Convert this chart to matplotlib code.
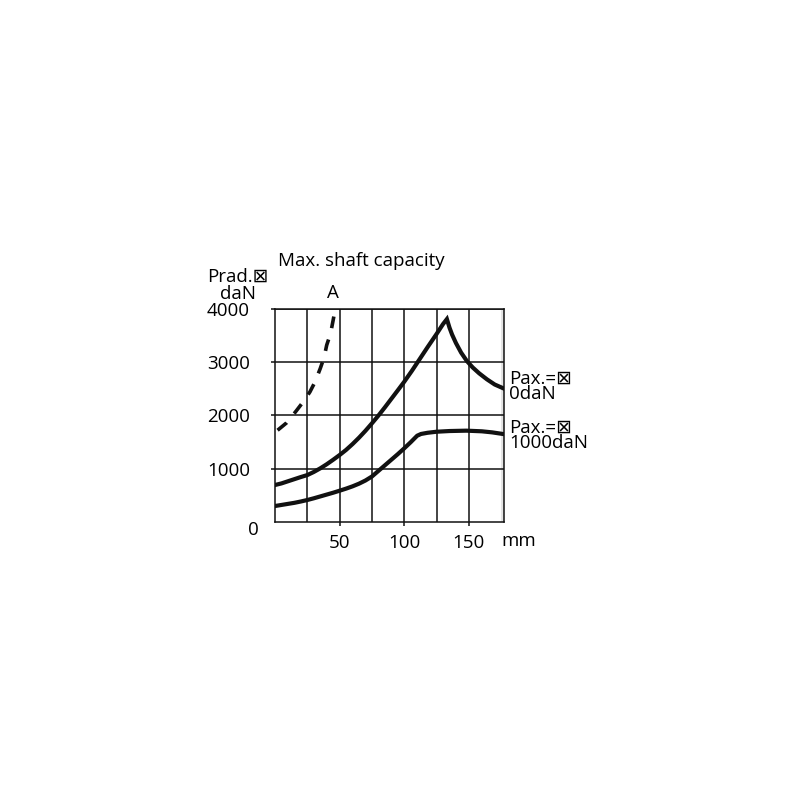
import matplotlib.pyplot as plt

plt.rcParams['font.family'] = ['Open Sans', 'DejaVu Sans']
plt.rcParams['lines.scale_dashes'] = False

# Pax. = 0 daN
x_pax0 = [0, 5, 10, 15, 20, 25, 30, 35, 40, 45, 50, 55, 60, 65, 70, 75, 80, 85, 90, 95,
          100, 106, 112, 118, 125, 130, 133,
          135, 137, 140, 144, 148.5, 153, 158, 164, 170, 176.8]
y_pax0 = [690, 720, 760, 800, 840, 877, 935, 1003, 1080, 1165, 1254, 1350, 1460, 1580, 1710, 1850, 1995, 2150, 2310, 2470,
          2632, 2840, 3060, 3280, 3530, 3716, 3810,
          3650, 3520, 3360, 3180, 3020, 2900, 2790, 2677, 2580, 2507]

# Pax. = 1000 daN
x_pax1000 = [0, 5, 10, 15, 20, 25, 30, 35, 40, 45, 50, 55, 60, 65, 70, 75, 80, 85, 90, 95,
             100, 105, 110, 113, 118, 125, 135, 148, 160, 168, 176.8]
y_pax1000 = [295, 315, 335, 355, 380, 408, 440, 475, 510, 545, 583, 622, 665, 715, 775, 850, 955, 1060, 1165, 1270,
             1380, 1495, 1617, 1650, 1672, 1692, 1705, 1712, 1700, 1680, 1648]

# curve A (dashed)
x_a = [2, 9, 16, 22, 27, 31, 35, 38, 40, 43, 45, 46.6]
y_a = [1720, 1860, 2070, 2260, 2440, 2630, 2880, 3090, 3320, 3540, 3790, 4000]

y_ticks = [1000, 2000, 3000, 4000]
x_ticks = [50, 100, 150]
x_minor = [25, 75, 125]

fig = plt.figure(figsize=(8, 8), dpi=100)
ax = fig.add_axes([275 / 800, 1 - 521.7 / 800, 228.5 / 800, 212.7 / 800])

ax.set_xlim(0, 176.8)
ax.set_ylim(0, 4000)

ax.axvspan(174.5, 176.8, color='#e4e4e4', lw=0, zorder=0)

ax.plot(x_pax0, y_pax0, color='#111111', lw=3.0, solid_joinstyle='miter', zorder=3)
ax.plot(x_pax1000, y_pax1000, color='#111111', lw=3.0, solid_joinstyle='round', zorder=3)
ax.plot(x_a, y_a, color='#111111', lw=2.6, dashes=[8.5, 8.5], dash_capstyle='butt', zorder=3)

ax.set_xticks(x_ticks)
ax.set_xticks(x_minor, minor=True)
ax.set_yticks(y_ticks)
ax.set_xticklabels([str(v) for v in x_ticks])
ax.set_yticklabels([str(v) for v in y_ticks])
ax.tick_params(axis='x', which='major', length=3, width=1.1, pad=6, labelsize=13.5, color='#111111')
ax.tick_params(axis='x', which='minor', length=0)
ax.tick_params(axis='y', length=3, width=1.1, pad=15, labelsize=13.5, color='#111111')
ax.grid(True, which='both', axis='x', color='#111111', lw=1.1)
ax.grid(True, which='major', axis='y', color='#111111', lw=1.1)
for s in ax.spines.values():
    s.set_linewidth(1.1)
    s.set_color('#111111')
ax.set_axisbelow(True)

fs = 13.5
fig.text(278 / 800, 1 - 261 / 800, 'Max. shaft capacity', fontsize=fs, ha='left', va='center')
fig.text(207 / 800, 1 - 277 / 800, 'Prad.⊠', fontsize=fs, ha='left', va='center')
fig.text(220 / 800, 1 - 294 / 800, 'daN', fontsize=fs, ha='left', va='center')
fig.text(333 / 800, 1 - 293 / 800, 'A', fontsize=fs, ha='center', va='center')
fig.text(253 / 800, 1 - 530 / 800, '0', fontsize=fs, ha='center', va='center')
fig.text(519 / 800, 1 - 541 / 800, 'mm', fontsize=fs, ha='center', va='center')
fig.text(509 / 800, 1 - 386.5 / 800, 'Pax.=⊠\n0daN', fontsize=fs, ha='left', va='center',
         linespacing=0.8)
fig.text(509 / 800, 1 - 435 / 800, 'Pax.=⊠\n1000daN', fontsize=fs, ha='left', va='center',
         linespacing=0.8)

fig.savefig('out.png', dpi=100)
